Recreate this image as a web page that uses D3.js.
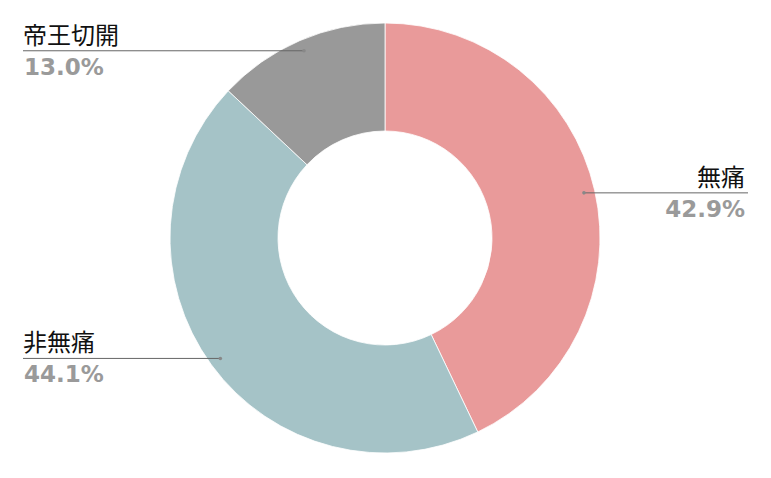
<!DOCTYPE html>
<html>
<head>
<meta charset="utf-8">
<script src="https://cdn.jsdelivr.net/npm/d3@7"></script>
<style>
  body { margin: 0; background: #fff; }
</style>
</head>
<body>
<script>
// Data
const categories = ["無痛", "非無痛", "帝王切開"];
const values = [42.9, 44.1, 13.0];
const colors = ["#e99a9a", "#a5c3c7", "#999999"];

const width = 771, height = 478;
const cx = 385, cy = 238;
const outerR = 215, innerR = 107, lineR = 204;

const svg = d3
  .select("body")
  .append("svg")
  .attr("width", width)
  .attr("height", height);

const pie = d3.pie().sort(null).value((d) => d.value);
const arcs = pie(categories.map((c, i) => ({ name: c, value: values[i], color: colors[i] })));

const arc = d3.arc().innerRadius(innerR).outerRadius(outerR);

const g = svg.append("g").attr("transform", `translate(${cx},${cy})`);

// Slices
g.selectAll("path")
  .data(arcs)
  .enter()
  .append("path")
  .attr("d", arc)
  .attr("fill", (d) => d.data.color)
  .attr("stroke", "#fff")
  .attr("stroke-width", 0.8);

// Labels with leader lines
const leftX = 23, rightX = 748;
arcs.forEach((d) => {
  const mid = (d.startAngle + d.endAngle) / 2;
  const px = cx + lineR * Math.sin(mid);
  const py = cy - lineR * Math.cos(mid);
  const right = px > cx;
  const ex = right ? rightX : leftX;

  svg.append("line")
    .attr("x1", px).attr("y1", py)
    .attr("x2", ex).attr("y2", py)
    .attr("stroke", "#666")
    .attr("stroke-width", 1);

  svg.append("circle")
    .attr("cx", px).attr("cy", py)
    .attr("r", 1.8)
    .attr("fill", "#888");

  const tx = right ? ex - 3 : ex;
  svg.append("text")
    .attr("x", tx).attr("y", py - 7)
    .attr("text-anchor", right ? "end" : "start")
    .attr("font-family", "'Noto Sans CJK JP', sans-serif")
    .attr("font-size", 24)
    .attr("fill", "#111")
    .text(d.data.name);

  svg.append("text")
    .attr("x", right ? tx : tx + 1).attr("y", py + 24)
    .attr("text-anchor", right ? "end" : "start")
    .attr("font-family", "'DejaVu Sans', sans-serif")
    .attr("font-weight", "bold")
    .attr("font-size", 23)
    .attr("fill", "#9a9a9a")
    .text(d.data.value.toFixed(1) + "%");
});
</script>
</body>
</html>
